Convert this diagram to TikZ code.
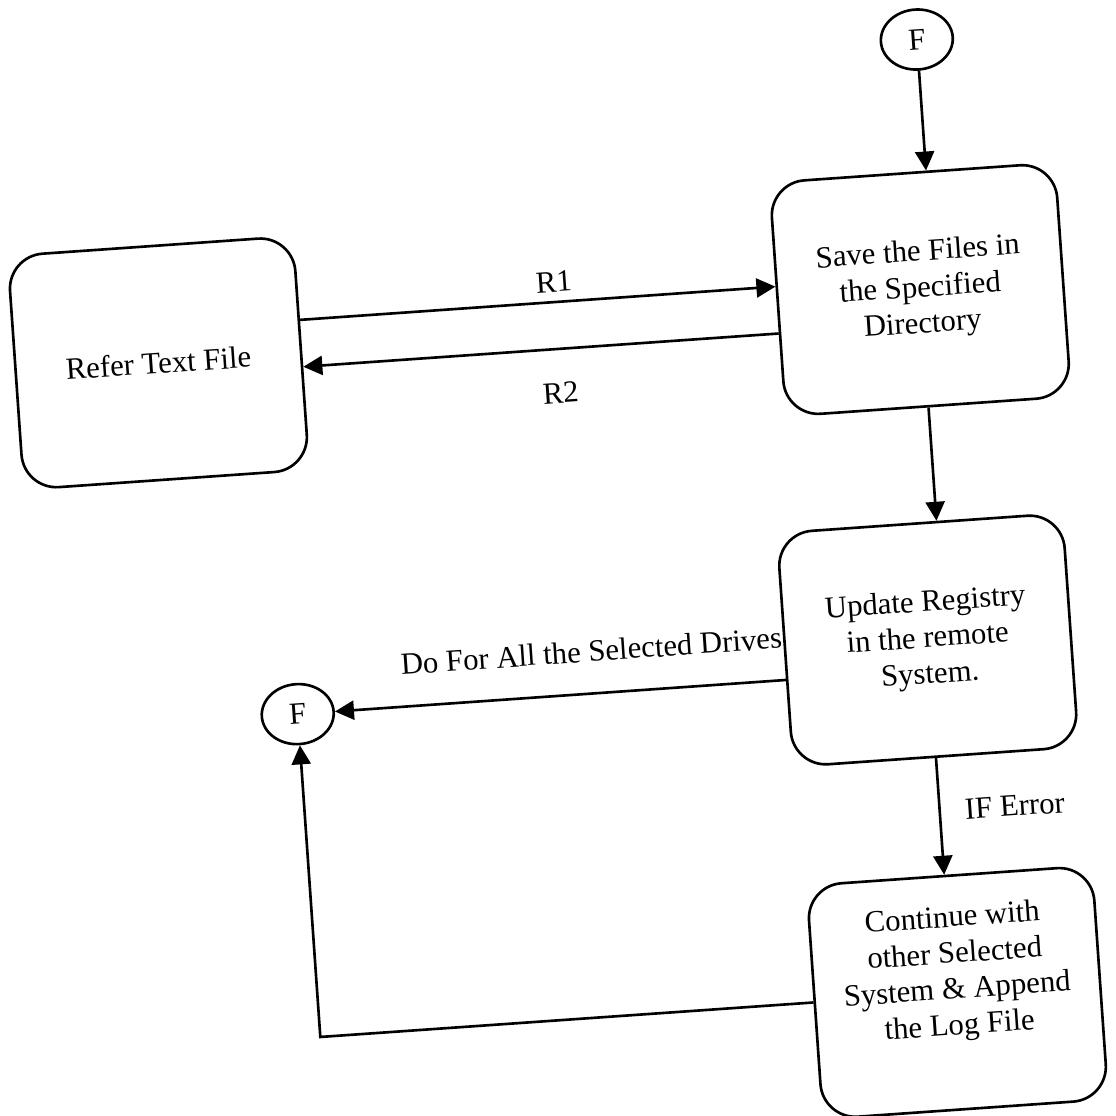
\documentclass[tikz,border=0pt]{standalone}
\usepackage{fontspec}
\setmainfont{Liberation Serif}
\usetikzlibrary{
    shapes.geometric,
    arrows.meta,
    positioning,
}

\begin{document}
\begin{tikzpicture}[
    >={Triangle[length=3.8mm, width=3.8mm]},
    proc/.style  = {rectangle, rounded corners=0.7cm, draw, line width=1.5pt,
                    minimum width=5.72cm, minimum height=4.68cm,
                    align=center, font=\fontsize{17.5}{20.5}\selectfont},
    conn/.style  = {ellipse, draw, line width=1.5pt, minimum width=1.44cm,
                    minimum height=1.2cm, inner sep=0pt,
                    font=\fontsize{17.5}{20.5}\selectfont},
    flow/.style  = {->, line width=1.5pt},
    lbl/.style   = {font=\fontsize{17.5}{20.5}\selectfont, inner sep=0pt,
                    anchor=base},
]

\useasboundingbox (0,0) rectangle (22.3,-22.32);

\begin{scope}[rotate around={4:(11.15,-11.16)}, transform shape]

%% ── Nodes ────────────────────────────────────────────────────────────────────
\node[proc] (refer) at (3.46,-6.71) {Refer Text File};
\node[proc, right=9.53cm of refer, yshift=0.4cm] (save)
      {Save the Files in\\the Specified\\Directory};
\node[proc, below=2.27cm of save, xshift=-0.34cm] (update)
      {Update Registry\\in the remote\\System.};
\node[proc, below=2.34cm of update, xshift=0.1cm, text depth=0.9cm] (cont)
      {Continue with\\other Selected\\System \& Append\\the Log File};

\node[conn, above=2.0cm of save, xshift=0.28cm] (topF) {F};
\node[conn, left=9.04cm of update, yshift=-0.6cm] (leftF) {F};

%% ── Request / reply ──────────────────────────────────────────────────────────
\coordinate (r1) at ([yshift=0.66cm]refer.east);
\coordinate (r2) at ([yshift=-0.28cm]refer.east);
\draw[flow] (r1) -- node[lbl, pos=0.537, yshift=0.2cm] (r1lbl) {R1}
      (r1 -| save.west);
\draw[flow] (r2 -| save.west) -- node[lbl, pos=0.465, yshift=-1.08cm] (r2lbl) {R2}
      (r2);

%% ── Main flow ────────────────────────────────────────────────────────────────
\draw[flow] (topF.south) -- (topF.south |- save.north);
\draw[flow] (save.south) -- (save.south |- update.north);
\draw[flow] (update.south) -- node[lbl, pos=0.54, anchor=base west,
      xshift=0.48cm] (errlbl) {IF Error} (update.south |- cont.north);

%% ── Loop back ────────────────────────────────────────────────────────────────
\draw[flow] (leftF.east -| update.west) -- node[lbl, pos=0.425, yshift=0.64cm]
      (drvlbl) {Do For All the Selected Drives} (leftF.east);
\draw[flow] (cont.west) -- (cont.west -| leftF.south) -- (leftF.south);

\end{scope}

\end{tikzpicture}
\end{document}
